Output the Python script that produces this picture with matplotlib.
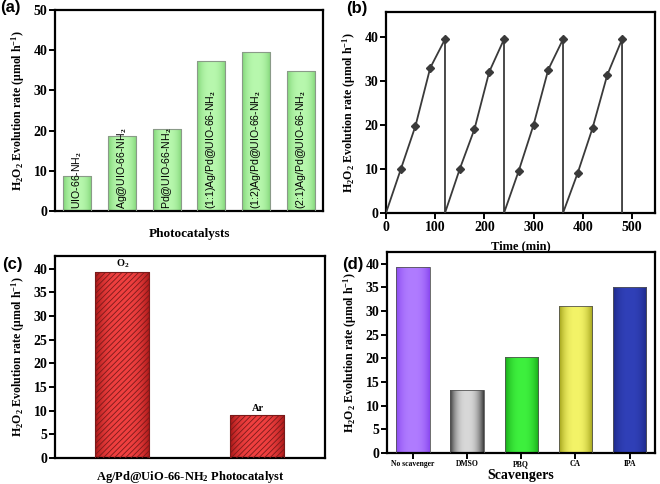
import numpy as np
import matplotlib
matplotlib.use("Agg")
import matplotlib.pyplot as plt
from matplotlib.colors import to_rgb

plt.rcParams['font.family'] = ['Liberation Serif', 'DejaVu Serif']
plt.rcParams['font.weight'] = 'bold'
plt.rcParams['mathtext.fontset'] = 'custom'
plt.rcParams['mathtext.rm'] = 'Liberation Serif:bold'
plt.rcParams['mathtext.it'] = 'Liberation Serif:bold'
plt.rcParams['mathtext.bf'] = 'Liberation Serif:bold'
plt.rcParams['mathtext.default'] = 'rm'
plt.rcParams['hatch.linewidth'] = 0.6

# ---------------- data ----------------
cat_a = ['UIO-66-NH$_2$', 'Ag@UIO-66-NH$_2$', 'Pd@UIO-66-NH$_2$',
         '(1:1)Ag/Pd@UIO-66-NH$_2$', '(1:2)Ag/Pd@UIO-66-NH$_2$', '(2:1)Ag/Pd@UIO-66-NH$_2$']
val_a = [8.7, 18.65, 20.3, 37.4, 39.5, 34.9]

time_b = [0, 30, 60, 90, 120, 120, 150, 180, 210, 240, 240, 270, 300, 330, 360,
          360, 390, 420, 450, 480, 480]
val_b = [0, 9.9, 19.8, 33.0, 39.5, 0, 10.0, 19.1, 32.1, 39.5, 0, 9.6, 20.0, 32.6, 39.5,
         0, 9.15, 19.3, 31.4, 39.5, 0]

cat_c = ['O$_2$', 'Ar']
val_c = [39.4, 9.15]

cat_d = ['No scavenger', 'DMSO', 'PBQ', 'CA', 'IPA']
val_d = [39.4, 13.3, 20.25, 31.0, 35.2]

ylabel = 'H$_2$O$_2$ Evolution rate ($\\mu$mol h$^{-1}$)'
YL_SIZE = 8.6

fig = plt.figure(figsize=(6.6, 4.84), dpi=100)


def style(ax):
    for s in ax.spines.values():
        s.set_linewidth(1.6)
    ax.tick_params(direction='out', width=1.4, length=4, labelsize=10, pad=1.5)
    for lab in ax.get_yticklabels() + ax.get_xticklabels():
        lab.set_fontweight('bold')


def shade(ax, bars, center, edge, power=2.0):
    c1 = np.array(to_rgb(center))
    c0 = np.array(to_rgb(edge))
    t = np.linspace(0, 1, 80)
    f = 1 - np.abs(2 * t - 1) ** power
    row = c0[None, :] + (c1 - c0)[None, :] * f[:, None]
    img = np.repeat(row[None, :, :], 2, axis=0)
    for b in bars:
        x0, y0, w, h = b.get_x(), b.get_y(), b.get_width(), b.get_height()
        im = ax.imshow(img, extent=[x0, x0 + w, y0, y0 + h], aspect='auto',
                       origin='lower', zorder=2, interpolation='bilinear')
        im.set_clip_path(b)


# ---------------- (a) ----------------
axa = fig.add_axes([0.0833, 0.5640, 0.4061, 0.4153])
xa = np.arange(len(cat_a))
bars = axa.bar(xa, val_a, width=0.63, facecolor='none', edgecolor='#8a9a88',
               linewidth=0.8, zorder=3)
shade(axa, bars, '#b8f8ae', '#7fd476', power=2.5)
for x, lab in zip(xa, cat_a):
    axa.text(x, 0.4, lab, rotation=90, ha='center', va='bottom', fontsize=7.6,
             family=['Liberation Sans', 'DejaVu Sans'], fontweight='normal', zorder=4)
axa.set_xlim(-0.5, 5.5)
axa.set_ylim(0, 50)
axa.set_yticks([0, 10, 20, 30, 40, 50])
axa.set_xticks([])
axa.set_xlabel('Photocatalysts', fontsize=9.5, fontweight='bold', labelpad=12)
axa.set_ylabel(ylabel, fontsize=YL_SIZE, fontweight='bold', labelpad=5)
style(axa)

# ---------------- (b) ----------------
axb = fig.add_axes([0.5848, 0.5599, 0.4076, 0.4153])
axb.plot(time_b, val_b, color='#3a3a3a', linewidth=1.3, zorder=3)
mx = [t for t, v in zip(time_b, val_b) if v > 0]
my = [v for v in val_b if v > 0]
axb.plot(mx, my, linestyle='none', marker='D', markersize=3.8, color='#3a3a3a', zorder=4)
axb.set_xlim(0, 547)
axb.set_ylim(0, 45.7)
axb.set_xticks([0, 100, 200, 300, 400, 500])
axb.set_yticks([0, 10, 20, 30, 40])
axb.set_xlabel('Time (min)', fontsize=9, fontweight='bold', labelpad=5)
axb.set_ylabel(ylabel, fontsize=YL_SIZE, fontweight='bold', labelpad=5)
style(axb)

# ---------------- (c) ----------------
axc = fig.add_axes([0.0833, 0.0537, 0.4091, 0.4174])
xc = np.arange(len(cat_c))
bars = axc.bar(xc, val_c, width=0.4, facecolor='none', edgecolor='#7a1a1a',
               linewidth=0.8, hatch='//////', zorder=3)
shade(axc, bars, '#f04040', '#a81818', power=3)
for x, v, lab in zip(xc, val_c, cat_c):
    axc.text(x, v + 0.4, lab, ha='center', va='bottom', fontsize=7.5, fontweight='bold')
axc.set_xlim(-0.5, 1.5)
axc.set_ylim(0, 42.7)
axc.set_yticks(np.arange(0, 41, 5))
axc.set_xticks([])
axc.set_xlabel('Ag/Pd@UiO-66-NH$_2$ Photocatalyst', fontsize=9, fontweight='bold', labelpad=8)
axc.set_ylabel(ylabel, fontsize=YL_SIZE, fontweight='bold', labelpad=5)
style(axc)

# ---------------- (d) ----------------
axd = fig.add_axes([0.5864, 0.0640, 0.4061, 0.4153])
xd = np.arange(len(cat_d))
bars = axd.bar(xd, val_d, width=0.62, facecolor='none', edgecolor='#555555',
               linewidth=0.6, zorder=3)
centers = ['#b07cff', '#d8d8d8', '#3ef03e', '#f4f468', '#3040b8']
edges = ['#8a48f0', '#3c3c3c', '#18a818', '#a0a018', '#1e2a88']
for b, c, e in zip(bars, centers, edges):
    shade(axd, [b], c, e, power=2.5)
axd.set_xlim(-0.48, 4.47)
axd.set_ylim(0, 42.5)
axd.set_yticks(np.arange(0, 41, 5))
axd.set_xticks(xd)
axd.set_xticklabels(cat_d, fontsize=5.5, fontweight='bold')
axd.set_xlabel('Scavengers', fontsize=10, fontweight='bold', labelpad=1)
axd.set_ylabel(ylabel, fontsize=YL_SIZE, fontweight='bold', labelpad=5)
style(axd)
axd.tick_params(axis='x', labelsize=5.5, pad=1)

# panel labels
lab_font = dict(fontsize=12, fontweight='bold', family=['Liberation Sans', 'DejaVu Sans'],
                va='top', ha='left')
fig.text(0.0, 1.0, '(a)', **lab_font)
fig.text(0.525, 0.997, '(b)', **lab_font)
fig.text(0.003, 0.47, '(c)', **lab_font)
fig.text(0.518, 0.47, '(d)', **lab_font)

fig.savefig('out.png', dpi=100)
